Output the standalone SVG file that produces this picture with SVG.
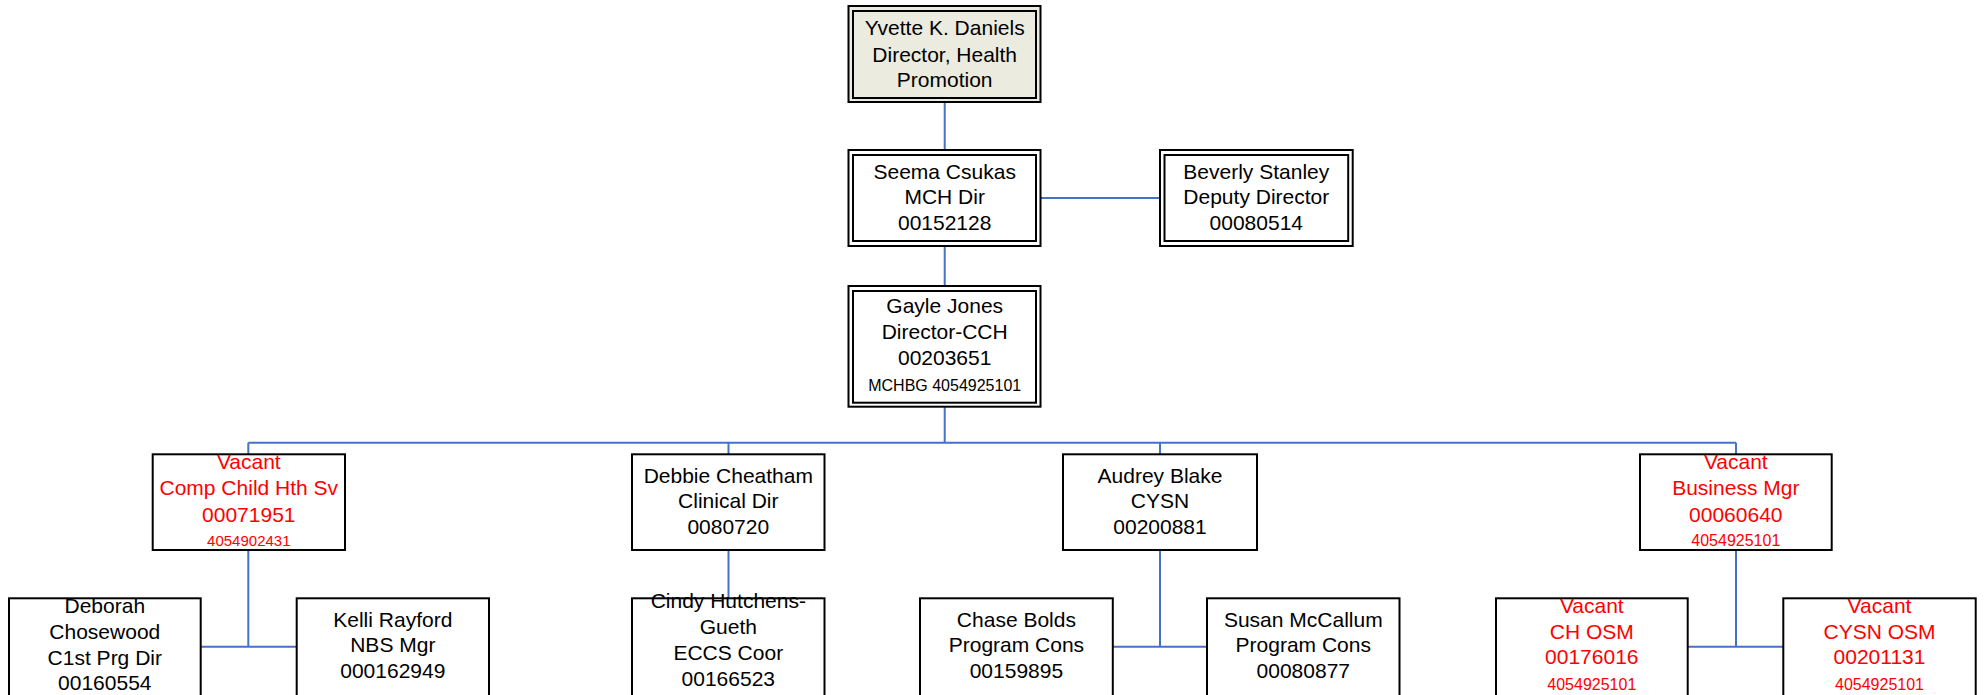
<svg xmlns="http://www.w3.org/2000/svg" width="1986" height="695" viewBox="0 0 1986 695">
<style>
.bg{fill:#ffffff}
.box{fill:#ffffff;stroke:#000000;stroke-width:2}
.top{fill:#EBEBDF;stroke:#000000;stroke-width:2}
.in{fill:none;stroke:#000000;stroke-width:2}
.t{font-family:"Liberation Sans",Arial,sans-serif;font-size:21px;fill:#000000;text-anchor:middle}
.r{fill:#FF0000}
.s{font-size:16px}
.s2{font-size:15px}
.con line{stroke:#4472C4;stroke-width:2;fill:none}
</style>
<rect class="bg" x="0" y="0" width="1986" height="695"/>
<g class="con" id="connectors">
<line x1="944.7" y1="102" x2="944.7" y2="150"/>
<line x1="1041" y1="198" x2="1160" y2="198"/>
<line x1="944.7" y1="246" x2="944.7" y2="286"/>
<line x1="944.7" y1="407" x2="944.7" y2="443"/>
<line x1="248.3" y1="442.7" x2="1736" y2="442.7"/>
<line x1="248.3" y1="442.7" x2="248.3" y2="454"/>
<line x1="728.5" y1="442.7" x2="728.5" y2="454"/>
<line x1="1160" y1="442.7" x2="1160" y2="454"/>
<line x1="1736" y1="442.7" x2="1736" y2="454"/>
<line x1="248.3" y1="550" x2="248.3" y2="646.7"/>
<line x1="200.7" y1="646.7" x2="296.7" y2="646.7"/>
<line x1="728.5" y1="550" x2="728.5" y2="598"/>
<line x1="1160" y1="550" x2="1160" y2="646.7"/>
<line x1="1112.8" y1="646.7" x2="1207" y2="646.7"/>
<line x1="1736" y1="550" x2="1736" y2="646.7"/>
<line x1="1687.7" y1="646.7" x2="1783.3" y2="646.7"/>
</g>
<g id="yvette">
<rect class="top" x="848.5" y="6" width="192" height="96"/>
<rect class="in" x="853" y="11" width="183" height="87"/>
<text class="t" x="944.7" y="35">Yvette K. Daniels</text>
<text class="t" x="944.7" y="61.7">Director, Health</text>
<text class="t" x="944.7" y="86.7">Promotion</text>
</g>
<g id="seema">
<rect class="box" x="848.5" y="150" width="192" height="96"/>
<rect class="in" x="853" y="155" width="183" height="86"/>
<text class="t" x="944.7" y="179">Seema Csukas</text>
<text class="t" x="944.7" y="204">MCH Dir</text>
<text class="t" x="944.7" y="230">00152128</text>
</g>
<g id="beverly">
<rect class="box" x="1160" y="150" width="192.7" height="96"/>
<rect class="in" x="1164.5" y="155" width="183.7" height="86"/>
<text class="t" x="1256.3" y="179">Beverly Stanley</text>
<text class="t" x="1256.3" y="204">Deputy Director</text>
<text class="t" x="1256.3" y="230">00080514</text>
</g>
<g id="gayle">
<rect class="box" x="848.5" y="286" width="192" height="120.7"/>
<rect class="in" x="853" y="291" width="183" height="111.7"/>
<text class="t" x="944.7" y="313">Gayle Jones</text>
<text class="t" x="944.7" y="339">Director-CCH</text>
<text class="t" x="944.7" y="365">00203651</text>
<text class="t s" x="944.7" y="391">MCHBG 4054925101</text>
</g>
<g id="vacant-comp">
<rect class="box" x="152.7" y="454.3" width="192.3" height="95.7"/>
<text class="t r" x="248.8" y="469.3">Vacant</text>
<text class="t r" x="248.8" y="495">Comp Child Hth Sv</text>
<text class="t r" x="248.8" y="521.7">00071951</text>
<text class="t r s2" x="248.8" y="546">4054902431</text>
</g>
<g id="debbie">
<rect class="box" x="632" y="454.3" width="192.5" height="95.7"/>
<text class="t" x="728.3" y="482.7">Debbie Cheatham</text>
<text class="t" x="728.3" y="508.3">Clinical Dir</text>
<text class="t" x="728.3" y="534.3">0080720</text>
</g>
<g id="audrey">
<rect class="box" x="1063" y="454.3" width="194" height="95.7"/>
<text class="t" x="1160" y="482.7">Audrey Blake</text>
<text class="t" x="1160" y="508.3">CYSN</text>
<text class="t" x="1160" y="534.3">00200881</text>
</g>
<g id="vacant-business">
<rect class="box" x="1640" y="454.3" width="191.7" height="95.7"/>
<text class="t r" x="1735.8" y="469.3">Vacant</text>
<text class="t r" x="1735.8" y="495">Business Mgr</text>
<text class="t r" x="1735.8" y="521.7">00060640</text>
<text class="t r s" x="1735.8" y="546">4054925101</text>
</g>
<g id="deborah">
<rect class="box" x="9" y="598.3" width="191.7" height="100"/>
<text class="t" x="104.8" y="613.3">Deborah</text>
<text class="t" x="104.8" y="639.3">Chosewood</text>
<text class="t" x="104.8" y="665">C1st Prg Dir</text>
<text class="t" x="104.8" y="690">00160554</text>
</g>
<g id="kelli">
<rect class="box" x="296.7" y="598.3" width="192.3" height="100"/>
<text class="t" x="392.8" y="626.7">Kelli Rayford</text>
<text class="t" x="392.8" y="652.3">NBS Mgr</text>
<text class="t" x="392.8" y="677.7">000162949</text>
</g>
<g id="cindy">
<rect class="box" x="632" y="598.3" width="192.5" height="100"/>
<text class="t" x="728.3" y="607.5">Cindy Hutchens-</text>
<text class="t" x="728.3" y="634">Gueth</text>
<text class="t" x="728.3" y="660">ECCS Coor</text>
<text class="t" x="728.3" y="685.7">00166523</text>
</g>
<g id="chase">
<rect class="box" x="920" y="598.3" width="192.8" height="100"/>
<text class="t" x="1016.4" y="626.7">Chase Bolds</text>
<text class="t" x="1016.4" y="652.3">Program Cons</text>
<text class="t" x="1016.4" y="677.7">00159895</text>
</g>
<g id="susan">
<rect class="box" x="1207" y="598.3" width="192.5" height="100"/>
<text class="t" x="1303.3" y="626.7">Susan McCallum</text>
<text class="t" x="1303.3" y="652.3">Program Cons</text>
<text class="t" x="1303.3" y="677.7">00080877</text>
</g>
<g id="vacant-ch-osm">
<rect class="box" x="1496" y="598.3" width="191.7" height="100"/>
<text class="t r" x="1591.8" y="613.3">Vacant</text>
<text class="t r" x="1591.8" y="639.3">CH OSM</text>
<text class="t r" x="1591.8" y="664.3">00176016</text>
<text class="t r s" x="1591.8" y="690">4054925101</text>
</g>
<g id="vacant-cysn-osm">
<rect class="box" x="1783.3" y="598.3" width="192.4" height="100"/>
<text class="t r" x="1879.5" y="613.3">Vacant</text>
<text class="t r" x="1879.5" y="639.3">CYSN OSM</text>
<text class="t r" x="1879.5" y="664.3">00201131</text>
<text class="t r s" x="1879.5" y="690">4054925101</text>
</g>
</svg>
